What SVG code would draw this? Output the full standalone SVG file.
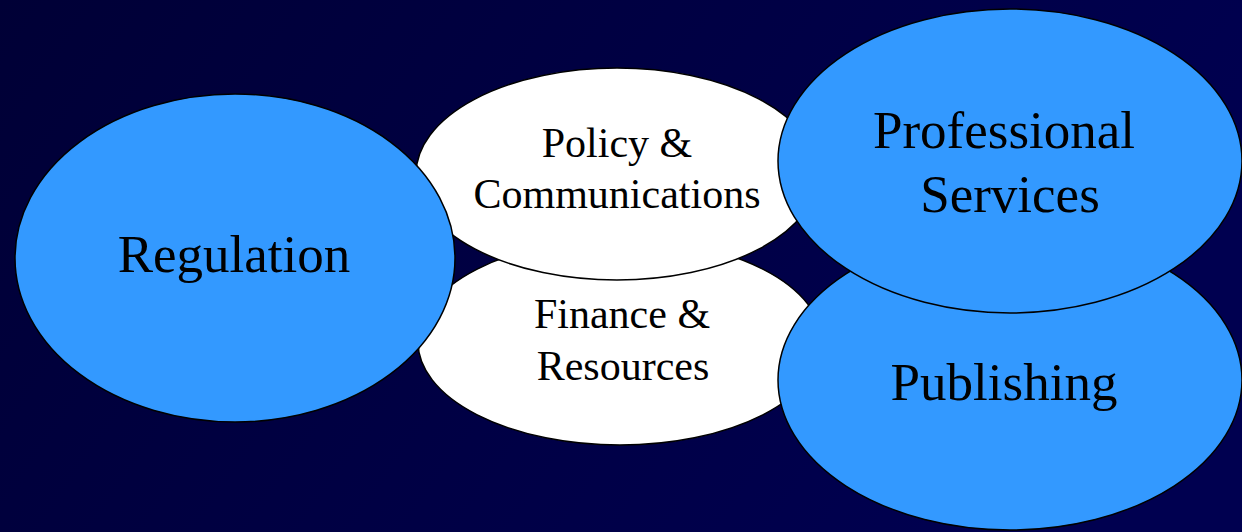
<svg xmlns="http://www.w3.org/2000/svg" width="1242" height="532" viewBox="0 0 1242 532">
<style>
.blue{fill:#3399ff;stroke:#000;stroke-width:1.5}
.white{fill:#fff;stroke:#000;stroke-width:1.5}
.t{font-family:"Liberation Serif","Times New Roman",serif;fill:#000;text-anchor:middle}
.big{font-size:53px}
.small{font-size:42px}
</style>
<defs>
<linearGradient id="bg" x1="0" y1="0" x2="1" y2="0.3">
<stop offset="0" stop-color="#000036"/>
<stop offset="1" stop-color="#000050"/>
</linearGradient>
</defs>
<rect width="1242" height="532" fill="url(#bg)"/>
<g id="connectors"></g>
<g id="finance">
<ellipse class="white" cx="620" cy="342" rx="202" ry="103"/>
<text class="t small" x="622" y="328">Finance &amp;</text>
<text class="t small" x="623" y="380">Resources</text>
</g>
<g id="policy">
<ellipse class="white" cx="617" cy="174" rx="201" ry="106"/>
<text class="t small" x="617" y="157">Policy &amp;</text>
<text class="t small" x="617" y="208">Communications</text>
</g>
<g id="regulation">
<ellipse class="blue" cx="235" cy="258" rx="220" ry="164"/>
<text class="t big" x="234" y="272">Regulation</text>
</g>
<g id="publishing">
<ellipse class="blue" cx="1010" cy="380" rx="232" ry="150"/>
<text class="t big" x="1004" y="400">Publishing</text>
</g>
<g id="professional">
<ellipse class="blue" cx="1010" cy="161" rx="232" ry="152"/>
<text class="t big" x="1004" y="148">Professional</text>
<text class="t big" x="1010" y="212">Services</text>
</g>
</svg>
